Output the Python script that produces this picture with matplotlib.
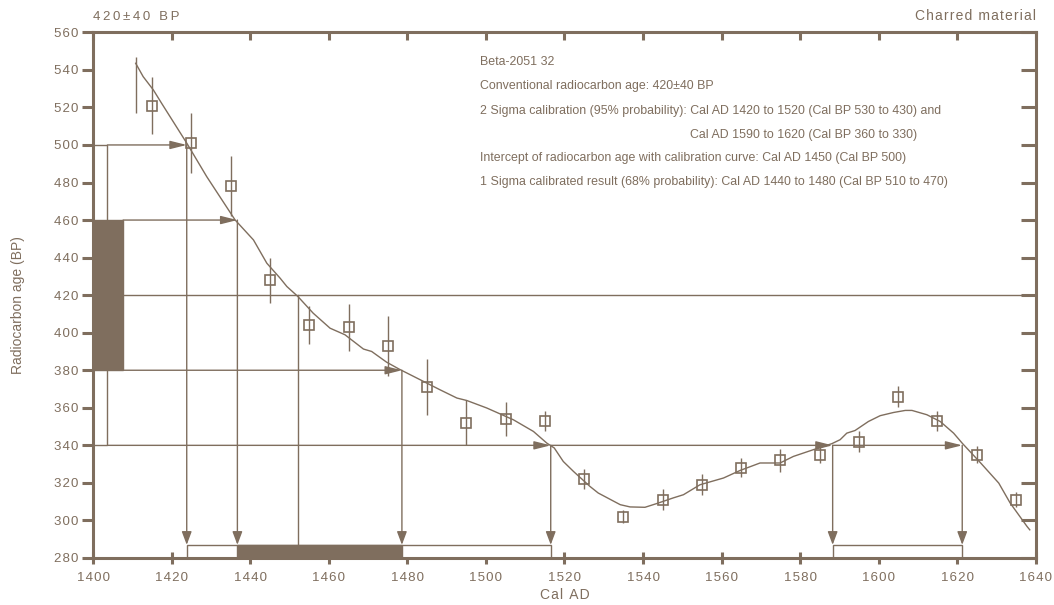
import matplotlib
matplotlib.use('Agg')
import matplotlib.pyplot as plt
from matplotlib.patches import Rectangle
from matplotlib.ticker import FuncFormatter

plt.rcParams['font.family'] = ['Liberation Sans', 'DejaVu Sans']

# calibration curve
curve_years = [1410.8, 1412.7, 1415.3, 1417.4, 1423.8, 1428.9, 1436.1, 1440.8, 1444.2, 1447.6,
               1449.3, 1452.1, 1456.0, 1460.3, 1464.1, 1468.8, 1470.9, 1474.7, 1477.9, 1483.2,
               1488.3, 1492.6, 1495.1, 1500.2, 1507.0, 1512.1, 1515.5, 1517.4, 1519.7, 1522.3,
               1526.5, 1528.6, 1534.2, 1536.7, 1540.5, 1543.5, 1547.7, 1550.3, 1554.5, 1560.5,
               1564.7, 1569.8, 1574.9, 1578.3, 1583.4, 1588.1, 1590.2, 1591.9, 1594.0, 1597.4,
               1600.4, 1603.8, 1606.8, 1608.5, 1612.3, 1615.7, 1619.1, 1621.4, 1626.0, 1630.6,
               1633.5, 1637.8, 1638.5]
curve_bp = [543.5, 536.4, 529.3, 522.2, 501.0, 483.1, 460.1, 449.4, 437.0, 429.0,
            424.6, 419.3, 410.4, 402.4, 398.9, 391.3, 390.0, 384.3, 380.6, 375.0,
            369.6, 365.2, 363.9, 359.9, 353.6, 347.4, 341.2, 338.6, 331.4, 326.1,
            318.1, 314.6, 308.4, 307.2, 307.0, 309.0, 312.0, 313.7, 319.0, 322.6,
            326.6, 330.6, 330.6, 334.1, 337.7, 340.9, 343.0, 346.5, 347.9, 352.7,
            355.8, 357.5, 358.6, 358.6, 356.3, 352.7, 346.5, 340.9, 330.6, 319.9,
            309.3, 296.8, 295.0]

# decadal data points with errors
pt_years = [1415, 1425, 1435, 1445, 1455, 1465, 1475, 1485, 1495, 1505, 1515, 1525,
            1535, 1545, 1555, 1565, 1575, 1585, 1595, 1605, 1615, 1625, 1635]
pt_bp = [521, 501, 478, 428, 404, 403, 393, 371, 352, 354, 353, 322,
         302, 311, 319, 328, 332, 335, 342, 366, 353, 335, 311]
pt_err = [15, 16, 16, 12, 10, 12.5, 16, 15, 12, 9, 5.5, 5.5,
          3.5, 5.5, 5.5, 5, 6, 4.5, 5.5, 5.5, 5.5, 4.5, 4]
# error bar at start of curve, without marker
start_year, start_bp, start_err = 1410.8, 532, 15

age, sigma = 420, 40
# intercepts of sigma limits with the curve
int_2s_top = 1423.8      # 500 BP
int_1s_top = 1436.7      # 460 BP
int_age = 1452.1         # 420 BP
int_1s_bot = 1478.6      # 380 BP
int_2s_bot = [1516.5, 1588.3, 1621.3]   # 340 BP

c = '#7f6e5e'
fig = plt.figure(figsize=(10.54, 6.05), dpi=100)
ax = fig.add_axes([0.0885, 0.0777, 0.8941, 0.8689])
ax.set_xlim(1400, 1640)
ax.set_ylim(280, 560)

ax.plot(curve_years, curve_bp, color=c, lw=1.0, zorder=3)
ax.errorbar(pt_years, pt_bp, yerr=pt_err, fmt='s', mfc='none', mec=c, ecolor=c,
            ms=7.5, mew=1.2, elinewidth=1.0, capsize=0, zorder=4)
ax.errorbar([start_year], [start_bp], yerr=[start_err], fmt='none', ecolor=c, elinewidth=1.0)

# boxes on the BP axis
box_1s_w = 7.6
box_2s_w = 3.6
bar_h = 7
ax.add_patch(Rectangle((1400, age - 2 * sigma), box_2s_w, 4 * sigma, fc='white', ec=c, lw=1.0, zorder=2))
ax.add_patch(Rectangle((1400, age - sigma), box_1s_w, 2 * sigma, fc=c, ec=c, lw=1.0, zorder=2))
# boxes on the cal AD axis
ax.add_patch(Rectangle((int_2s_top, 280), int_2s_bot[0] - int_2s_top, bar_h, fc='white', ec=c, lw=1.0, zorder=2))
ax.add_patch(Rectangle((int_2s_bot[1], 280), int_2s_bot[2] - int_2s_bot[1], bar_h, fc='white', ec=c, lw=1.0, zorder=2))
ax.add_patch(Rectangle((int_1s_top, 280), int_1s_bot - int_1s_top, bar_h, fc=c, ec=c, lw=1.0, zorder=2))

# age line
ax.plot([1400 + box_1s_w, 1640], [age, age], color=c, lw=1.0)
ax.plot([int_age, int_age], [age, 280 + bar_h], color=c, lw=1.0)

hstyle = '-|>,head_length=1.0,head_width=0.25'
vstyle = '-|>,head_length=0.8,head_width=0.3'

def arrow(x0, y0, x1, y1, style):
    ax.annotate('', xy=(x1, y1), xytext=(x0, y0),
                arrowprops=dict(arrowstyle=style, mutation_scale=10, color=c, lw=1.0,
                                shrinkA=0, shrinkB=0), zorder=3)

arrow(1400 + box_2s_w, age + 2 * sigma, int_2s_top, age + 2 * sigma, hstyle)
arrow(1400 + box_1s_w, age + sigma, int_1s_top, age + sigma, hstyle)
arrow(1400 + box_1s_w, age - sigma, int_1s_bot, age - sigma, hstyle)
xs = [1400 + box_2s_w] + int_2s_bot
for x0, x1 in zip(xs[:-1], xs[1:]):
    arrow(x0, age - 2 * sigma, x1, age - 2 * sigma, hstyle)

arrow(int_2s_top, age + 2 * sigma, int_2s_top, 280 + bar_h, vstyle)
arrow(int_1s_top, age + sigma, int_1s_top, 280 + bar_h, vstyle)
arrow(int_1s_bot, age - sigma, int_1s_bot, 280 + bar_h, vstyle)
for x in int_2s_bot:
    arrow(x, age - 2 * sigma, x, 280 + bar_h, vstyle)

# axes styling
spaced = lambda s, sp='\u200a': sp.join(s)
ax.set_xticks(range(1400, 1641, 20))
ax.set_yticks(range(280, 561, 20))
ax.xaxis.set_major_formatter(FuncFormatter(lambda v, p: spaced(str(int(v)))))
ax.yaxis.set_major_formatter(FuncFormatter(lambda v, p: spaced(str(int(v)))))
for s in ax.spines.values():
    s.set_color(c)
    s.set_linewidth(2.2)
ax.tick_params(axis='y', left=True, right=True, direction='out', length=8, width=2.2,
               color=c, labelcolor=c, labelsize=9.5, pad=3)
ax.tick_params(axis='x', top=True, direction='inout', length=8, width=2.2,
               color=c, labelcolor=c, labelsize=9.5, pad=6)
# inward ticks on the right and top
for t in ax.yaxis.get_major_ticks():
    t.tick2line.set_marker(matplotlib.lines.TICKLEFT)
    t.tick2line.set_markersize(11)
for t in ax.xaxis.get_major_ticks():
    t.tick2line.set_marker(matplotlib.lines.TICKDOWN)
    t.tick2line.set_markersize(6)

ax.set_xlabel(spaced('Cal AD'), color=c, fontsize=10, labelpad=3)
ax.set_ylabel('Radiocarbon age (BP)', color=c, fontsize=10)
ax.yaxis.set_label_coords(-0.072, 0.481)

fig.text(0.0885, 0.962, spaced('420±40 BP', '\u2009'), color=c, fontsize=9.5, va='bottom', ha='left')
fig.text(0.9826, 0.962, spaced('Charred material'), color=c, fontsize=10, va='bottom', ha='right')

info = ['Beta-2051 32',
        'Conventional radiocarbon age: 420±40 BP',
        '2 Sigma calibration (95% probability): Cal AD 1420 to 1520 (Cal BP 530 to 430) and',
        'Cal AD 1590 to 1620 (Cal BP 360 to 330)',
        'Intercept of radiocarbon age with calibration curve: Cal AD 1450 (Cal BP 500)',
        '1 Sigma calibrated result (68% probability): Cal AD 1440 to 1480 (Cal BP 510 to 470)']
info_x = [1498.5, 1498.5, 1498.5, 1552.0, 1498.5, 1498.5]
info_y = [544.3, 531.5, 518.2, 505.3, 492.9, 480.1]
for s, x, y in zip(info, info_x, info_y):
    ax.text(x, y, s, color=c, fontsize=8.9, va='center', ha='left')

fig.savefig('out.png', dpi=100)
